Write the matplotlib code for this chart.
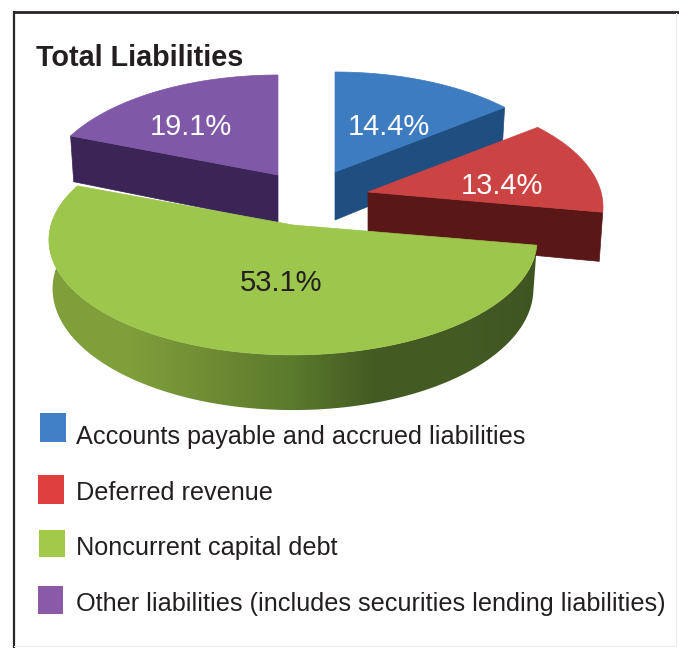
import numpy as np
import matplotlib
matplotlib.use('Agg')
import matplotlib.pyplot as plt
from matplotlib.colors import LinearSegmentedColormap
from matplotlib.patches import Polygon, Rectangle

plt.rcParams['font.family'] = ['Liberation Sans', 'DejaVu Sans']

# Liabilities breakdown, percent
categories = ['Accounts payable and accrued liabilities', 'Deferred revenue',
              'Noncurrent capital debt', 'Other liabilities (includes securities lending liabilities)']
shares = [14.4, 13.4, 53.1, 19.1]

top_colors = ['#3d7cc0', '#cc4343', '#9dc64d', '#8058a8']
side_colors = ['#1f4e80', '#5a1717', '#6b8735', '#3a2556']
key_colors = ['#3f80c6', '#df3f3f', '#a3c94a', '#8a5aa8']
label_colors = ['white', 'white', '#231f20', 'white']

# slice tips (exploded), canvas pixels, and horizontal radius of each slice
tips = [(335, 172), (368, 192), (293, 225), (278, 175)]
radii = [233, 233, 242, 233]
label_pos = [(389, 127), (502, 186), (281, 283), (191, 127)]
key_boxes = [(40, 413, 26, 29), (38, 475, 26, 29), (39, 530, 26, 27), (38, 586, 25, 28)]
key_text_y = [437, 493, 548, 604]

RY, PERSP, DEPTH = 113, 0.13, 48


def project(i, theta, drop=0.0):
    # flat disc to canvas, near edge a bit larger than far edge, base slightly narrower
    u, v = np.cos(theta), np.sin(theta)
    w = 1 / (1 + PERSP * v)
    x = tips[i][0] + radii[i] * u * w * (1 - 0.015 * drop)
    return x, tips[i][1] - RY * v * w + drop * DEPTH * w


fig = plt.figure(figsize=(6.79, 6.48), dpi=100)
ax = fig.add_axes([0, 0, 1, 1])

# slice angles, clockwise from 12 o'clock
edges = np.pi / 2 - np.cumsum([0] + shares) / sum(shares) * 2 * np.pi
spans = list(zip(edges[:-1], edges[1:]))

# back to front: purple, blue, red, then the big green slice
for i in [3, 0, 1]:
    a0, a1 = spans[i]
    # the cut face that looks towards the viewer
    cut = a0 if i == 3 else a1
    xe, ye = project(i, cut)
    xb, yb = project(i, cut, drop=1)
    ax.fill([tips[i][0], xe, xb, tips[i][0]],
            [tips[i][1], ye, yb, tips[i][1] + DEPTH],
            color=side_colors[i], lw=0.5)
    th = np.linspace(a0, a1, 80)
    xs, ys = project(i, th)
    ax.fill(np.r_[tips[i][0], xs], np.r_[tips[i][1], ys], color=top_colors[i], lw=0.5)

# green rim, shaded left to right and clipped to the arc
a0, a1 = spans[2]
rim_cmap = LinearSegmentedColormap.from_list(
    'rim', ['#7f9f3a', '#7f9f3a', '#6f8c34', '#5a7a2c', '#435a22', '#445b24', '#3f5520'])
th = np.linspace(a1, a0, 240)
xs, ys = project(2, th)
xb, yb = project(2, th, drop=1.0)
rim = Polygon(np.c_[np.r_[xs, xb[::-1]], np.r_[ys, yb[::-1]]], closed=True,
              transform=ax.transData, fc='none', ec='none')
ax.add_patch(rim)
im = ax.imshow(np.linspace(0, 1, 256)[None, :], cmap=rim_cmap, aspect='auto',
               extent=(xb.min() - 6, xs.max() + 2, yb.max() + 2, ys.min() - 2))
im.set_clip_path(rim)

th = np.linspace(a0, a1, 200)
xs, ys = project(2, th)
ax.fill(np.r_[tips[2][0], xs], np.r_[tips[2][1], ys], color=top_colors[2], lw=0.5)

for (x, y), share, c in zip(label_pos, shares, label_colors):
    ax.text(x, y, f'{share}%', color=c, fontsize=21, ha='center', va='center')

ax.text(36, 58, 'Total Liabilities', fontsize=20.7, fontweight='bold', color='#231f20',
        ha='left', va='center')

for box, name, y, c in zip(key_boxes, categories, key_text_y, key_colors):
    ax.add_patch(Rectangle(box[:2], box[2], box[3], color=c, lw=0))
    ax.text(76, y, name, fontsize=18.2, color='#231f20', ha='left', va='center')

# outer frame: heavy top and left, barely visible right and bottom
ax.plot([14, 14], [648, 11], color='#2a2627', lw=1.6, solid_capstyle='butt')
ax.plot([13, 679], [11.5, 11.5], color='#2a2627', lw=2.0, solid_capstyle='butt')
ax.plot([676, 676, 14], [13, 646, 646], color='#ececec', lw=0.8)

ax.set_xlim(0, 679)
ax.set_ylim(648, 0)
ax.axis('off')

fig.savefig('out.png', dpi=100)
